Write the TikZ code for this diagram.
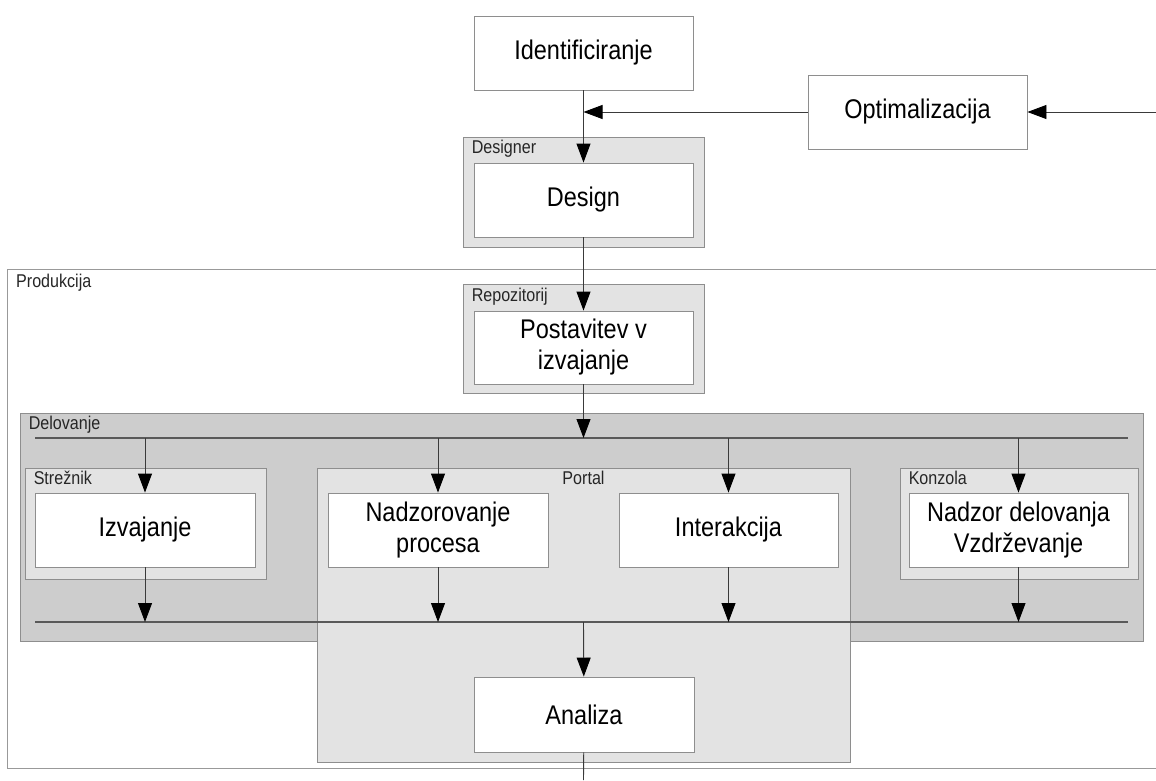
\documentclass[tikz,border=0pt]{standalone}
\usepackage{fontspec}
\setmainfont{Liberation Sans}[FakeStretch=0.87]
\usetikzlibrary{arrows.meta}
\definecolor{contfill}{HTML}{E3E3E3}
\definecolor{delfill}{HTML}{CDCDCD}
\definecolor{edge}{HTML}{8E8E8E}
\definecolor{wire}{HTML}{3A3A3A}
\begin{document}
\begin{tikzpicture}[x=1pt,y=-1pt,
 box/.style={draw=edge, fill=white, line width=0.9pt, minimum width=219pt, minimum height=74pt, inner sep=0pt, align=center, font=\fontsize{27}{31}\selectfont},
 cont/.style={draw=edge, fill=contfill, line width=0.9pt, inner sep=0pt},
 lab/.style={font=\fontsize{18.5}{20}\selectfont, inner xsep=9pt, inner ysep=3pt, text height=14pt, text depth=4pt, text=black!85},
 arr/.style={draw=wire, line width=0.9pt, -{Triangle[length=19pt,width=14pt,color=black]}},
 ln/.style={draw=wire, line width=0.9pt},
 bar/.style={draw=black!65, line width=1.4pt}]
\useasboundingbox (0,0) rectangle (1156,780);
\fill[white] (0,0) rectangle (1156,780);

% Produkcija frame
\draw[draw=black!40, line width=0.9pt] (1156,269) -- (7,269) -- (7,768) -- (1156,768);
\node[lab, anchor=north west] (prodlab) at (7,270) {Produkcija};

% top part
\node[box] (ident) at (583.5,53) {Identificiranje};
\node[box] (optim) at (917.5,112) {Optimalizacija};
\node[cont, minimum width=241pt, minimum height=110pt,
      label={[lab,anchor=north west]north west:Designer}] (designer) at (583.5,192) {};
\node[box] (design) at (583.5,200) {Design};

\node[cont, minimum width=241pt, minimum height=109pt,
      label={[lab,anchor=north west]north west:Repozitorij}] (repo) at (583.5,339) {};
\node[box, minimum height=73pt] (postav) at (583.5,347.5) {Postavitev v\\izvajanje};

% Delovanje
\node[draw=edge, fill=delfill, line width=0.9pt, inner sep=0pt, minimum width=1123pt, minimum height=228pt,
      label={[lab,anchor=north west]north west:Delovanje}] (delovanje) at (581.5,527) {};
\coordinate (tbL) at (35,438);
\coordinate (tbR) at (1128,438);
\coordinate (tb) at (583.5,438);
\draw[bar] (tbL) -- (tbR);

\node[cont, minimum width=241pt, minimum height=111pt,
      label={[lab,anchor=north west]north west:Strežnik}] (streznik) at (145.5,523.5) {};
\node[cont, minimum width=533pt, minimum height=294pt,
      label={[lab,anchor=north]north:Portal}] (portal) at (583.5,615) {};
\node[cont, minimum width=238pt, minimum height=111pt,
      label={[lab,anchor=north west]north west:Konzola}] (konzola) at (1019,523.5) {};

\coordinate (bbL) at (35,622);
\coordinate (bbR) at (1128,622);
\coordinate (bb) at (583.5,622);
\draw[bar] (bbL) -- (bbR);

\node[box, minimum width=220pt] (izv) at (145,530) {Izvajanje};
\node[box, minimum width=220pt] (nadzp) at (438,530) {Nadzorovanje\\procesa};
\node[box] (inter) at (728.5,530) {Interakcija};
\node[box] (nadzd) at (1018.5,530) {Nadzor delovanja\\Vzdrževanje};
\node[box, minimum width=220pt, minimum height=75pt] (analiza) at (584,714.5) {Analiza};

% connectors
\coordinate (rin) at (1156,112);
\coordinate (junc) at (583.5,112);
\coordinate (out) at (583.5,780);
\draw[arr] (rin) -- (optim);
\draw[arr] (optim) -- (junc);
\draw[arr] (ident) -- (design);
\draw[arr] (design) -- (postav);
\draw[arr] (postav) -- (tb);
\foreach \n in {izv,nadzp,inter,nadzd}{
  \draw[arr] (\n.north |- tb) -- (\n);
  \draw[arr] (\n) -- (\n.south |- bb);
}
\draw[arr] (bb) -- (analiza);
\draw[ln] (analiza) -- (out);
\end{tikzpicture}
\end{document}
